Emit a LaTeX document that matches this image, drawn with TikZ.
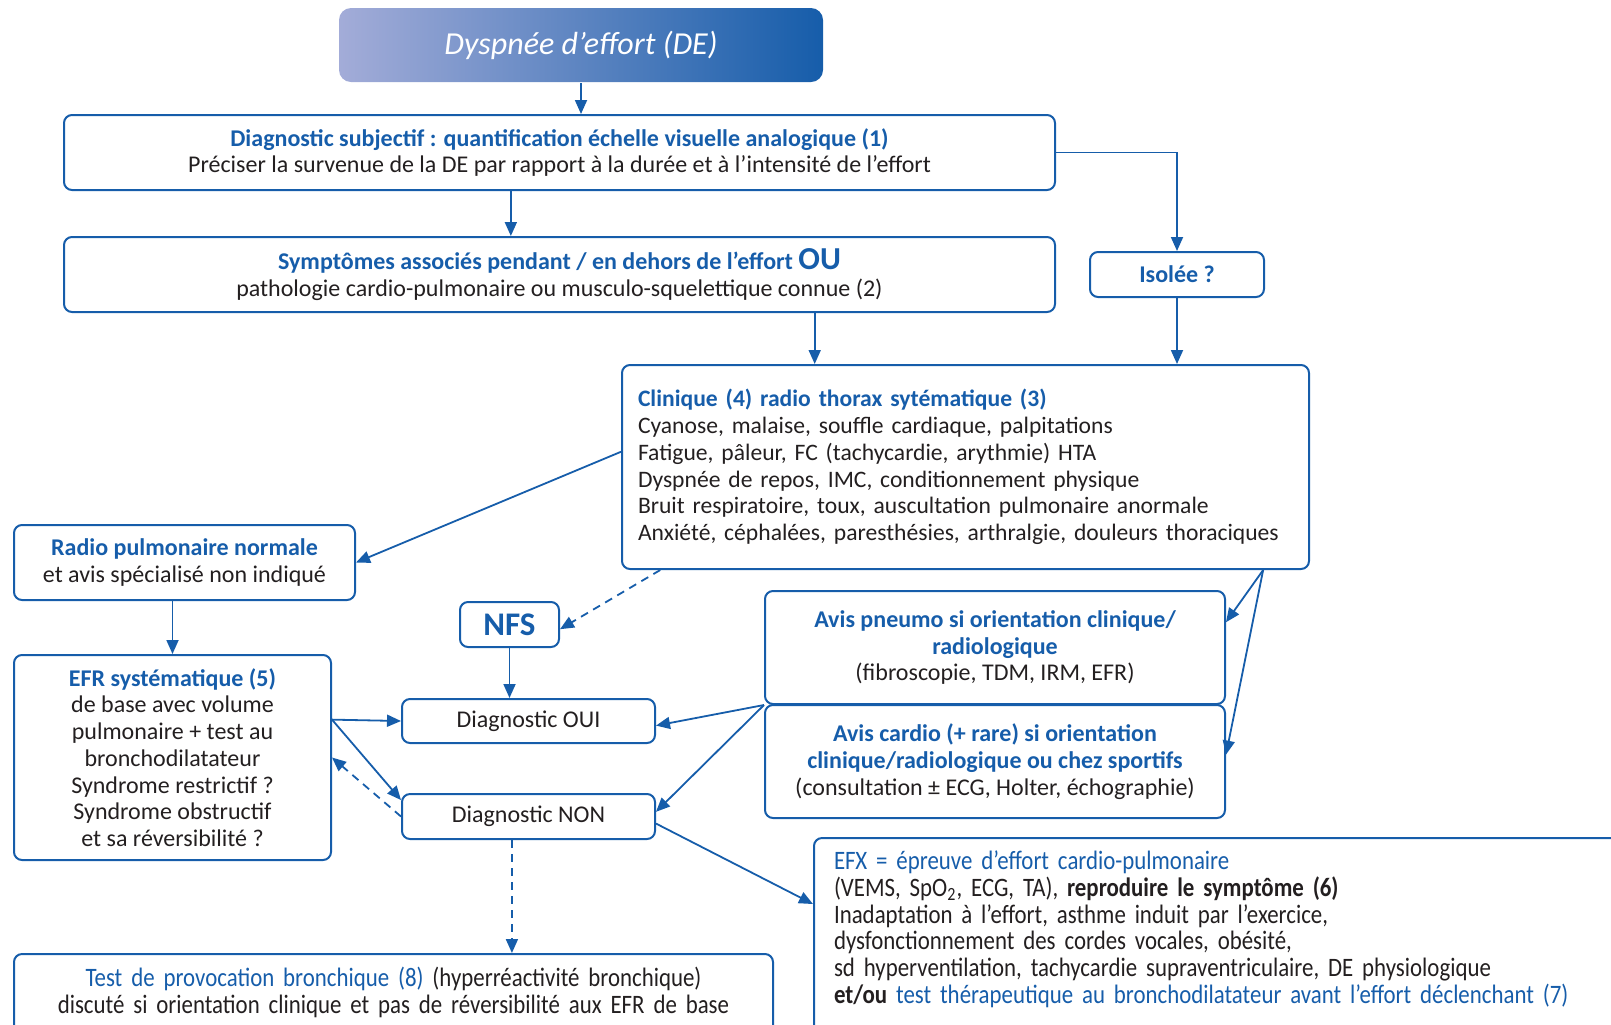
\documentclass[tikz,border=0pt]{standalone}
\usepackage{fontspec}
\setmainfont{Carlito}
\newfontfamily\condfont[FakeStretch=0.86,WordSpace=0.7,Ligatures=TeX]{Carlito}
\usetikzlibrary{arrows.meta,calc}
\definecolor{dblue}{RGB}{22,93,170}
\definecolor{dtext}{RGB}{35,31,32}
\definecolor{lblue}{RGB}{163,172,216}
\newcommand{\hd}[1]{\textcolor{dblue}{\bfseries #1}}

\begin{document}
\begin{tikzpicture}[%
      x=0.5pt, y=-0.5pt,
      box/.style={draw=dblue, line width=1pt, rounded corners=4pt, text=dtext,
        align=center, inner sep=0pt, font=\fontsize{12}{13.35}\selectfont},
      condbox/.style={box, font=\condfont\fontsize{13.3}{13.35}\selectfont},
      arr/.style={color=dblue, line width=0.9pt, -{Triangle[length=7pt,width=6pt]}},
      darr/.style={arr, dash pattern=on 4pt off 3pt},
      ]
      \useasboundingbox (0,0) rectangle (1611,1024);
      \clip (0,0) rectangle (1611,1024);

      % boxes
      \node [box, draw=none, rounded corners=6pt, left color=lblue, middle color=dblue!65!lblue,
        right color=dblue, text=white, minimum width=242pt, minimum height=37pt,
        font=\itshape\fontsize{16}{16}\selectfont] (title) at (581,45) {Dyspnée d'effort (DE)};
      \node [box, minimum width=495.5pt, minimum height=37.5pt] (ds) at (559.5,152.5)
        {\hd{Diagnostic subjectif : quantification échelle visuelle analogique (1)}\\
         Préciser la survenue de la DE par rapport à la durée et à l'intensité de l'effort};
      \node [box, minimum width=495.5pt, minimum height=37.5pt] (sym) at (559.5,274.5)
        {\hd{Symptômes associés pendant / en dehors de l'effort {\fontsize{16}{13}\selectfont OU}}\\
         pathologie cardio-pulmonaire ou musculo-squelettique connue (2)};
      \node [box, minimum width=87pt, minimum height=22.5pt] (iso) at (1177,274.5) {\hd{Isolée ?}};
      \node [box, align=left, text width=327.5pt, inner xsep=8pt, minimum width=343.5pt,
        minimum height=102pt, font=\fontsize{11.8}{13.35}\selectfont] (clin) at (965.5,467)
        {\hd{Clinique (4) radio thorax sytématique (3)}\\
         Cyanose, malaise, souffle cardiaque, palpitations\\
         Fatigue, pâleur, FC (tachycardie, arythmie) HTA\\
         Dyspnée de repos, IMC, conditionnement physique\\
         Bruit respiratoire, toux, auscultation pulmonaire anormale\\
         Anxiété, céphalées, paresthésies, arthralgie, douleurs thoraciques};
      \node [box, minimum width=170.5pt, minimum height=37.5pt] (radio) at (184.5,562.5)
        {\hd{Radio pulmonaire normale}\\ et avis spécialisé non indiqué};
      \node [box, minimum width=49.5pt, minimum height=22.5pt,
        font=\fontsize{16.5}{16.5}\selectfont] (nfs) at (509.5,624.5) {\hd{NFS}};
      \node [box, minimum width=158.5pt, minimum height=102.5pt] (efr) at (172.5,757.5)
        {\hd{EFR systématique (5)}\\ de base avec volume\\ pulmonaire + test au\\
         bronchodilatateur\\ Syndrome restrictif ?\\ Syndrome obstructif\\ et sa réversibilité ?};
      \node [box, minimum width=126.5pt, minimum height=22pt] (oui) at (528.5,721) {Diagnostic OUI};
      \node [box, minimum width=126.5pt, minimum height=22.5pt] (non) at (528.5,816.5) {Diagnostic NON};
      \node [box, minimum width=230pt, minimum height=56.5pt] (pneumo) at (995,647.5)
        {\hd{Avis pneumo si orientation clinique/}\\ \hd{radiologique}\\ (fibroscopie, TDM, IRM, EFR)};
      \node [box, minimum width=230pt, minimum height=56.5pt] (cardio) at (995,761.5)
        {\hd{Avis cardio (+ rare) si orientation}\\ \hd{clinique/radiologique ou chez sportifs}\\
         (consultation ± ECG, Holter, échographie)};
      \node [condbox, anchor=north west, align=left, text width=420pt, inner xsep=10pt,
        inner ysep=6.5pt, text depth=100pt] (efx) at (813,837)
        {\textcolor{dblue}{EFX = épreuve d'effort cardio-pulmonaire}\\
         (VEMS, SpO\textsubscript{2}, ECG, TA), {\bfseries reproduire le symptôme (6)}\\
         Inadaptation à l'effort, asthme induit par l'exercice,\\
         dysfonctionnement des cordes vocales, obésité,\\
         sd hyperventilation, tachycardie supraventriculaire, DE physiologique\\
         {\bfseries et/ou} \textcolor{dblue}{test thérapeutique au bronchodilatateur avant l'effort déclenchant (7)}};
      \node [condbox, anchor=north, text width=379.5pt, inner ysep=6.5pt, text depth=35pt]
        (test) at (393.5,953)
        {\textcolor{dblue}{Test de provocation bronchique (8)} (hyperréactivité bronchique)\\
         discuté si orientation clinique et pas de réversibilité aux EFR de base};

      % connector ends
      \coordinate (dsout) at ($(ds.south west)!0.451!(ds.south east)$);
      \coordinate (symout) at ($(sym.south west)!0.757!(sym.south east)$);
      \coordinate (clinl) at ($(clin.north west)!0.426!(clin.south west)$);
      \coordinate (clinsl) at ($(clin.south west)!0.057!(clin.south east)$);
      \coordinate (clinsr) at ($(clin.south west)!0.932!(clin.south east)$);
      \coordinate (efrout) at ($(efr.north east)!0.317!(efr.south east)$);
      \coordinate (nonr) at ($(non.north east)!0.65!(non.south east)$);
      \coordinate (nonb) at ($(non.south west)!0.435!(non.south east)$);

      % connectors
      \draw [arr] (title.south) -- (title.south |- ds.north);
      \draw [arr] (dsout) -- (dsout |- sym.north);
      \draw [arr] (ds.east) -| (iso.north);
      \draw [arr] (symout) -- (symout |- clin.north);
      \draw [arr] (iso.south) -- (iso.south |- clin.north);
      \draw [arr] (clinl) -- (radio.east);
      \draw [darr] (clinsl) -- ($(nfs.north east)!0.6!(nfs.south east)$);
      \draw [arr] (clinsr) -- ($(pneumo.north east)!0.28!(pneumo.south east)$);
      \draw [arr] (clinsr) -- ($(cardio.north east)!0.44!(cardio.south east)$);
      \draw [arr] (efr.north |- radio.south) -- (efr.north);
      \draw [arr] (nfs.south) -- (nfs.south |- oui.north);
      \draw [arr] (efrout) -- (oui.west);
      \draw [arr] (efrout) -- ($(non.north west)!0.15!(non.south west)$);
      \draw [darr] (non.west) -- (efr.east);
      \draw [arr] (pneumo.south west) -- ($(oui.north east)!0.6!(oui.south east)$);
      \draw [arr] (pneumo.south west) -- ($(non.north east)!0.4!(non.south east)$);
      \draw [arr] (nonr) -- ($(efx.north west)+(0,67)$);
      \draw [darr] (nonb) -- (nonb |- test.north);
\end{tikzpicture}
\end{document}
